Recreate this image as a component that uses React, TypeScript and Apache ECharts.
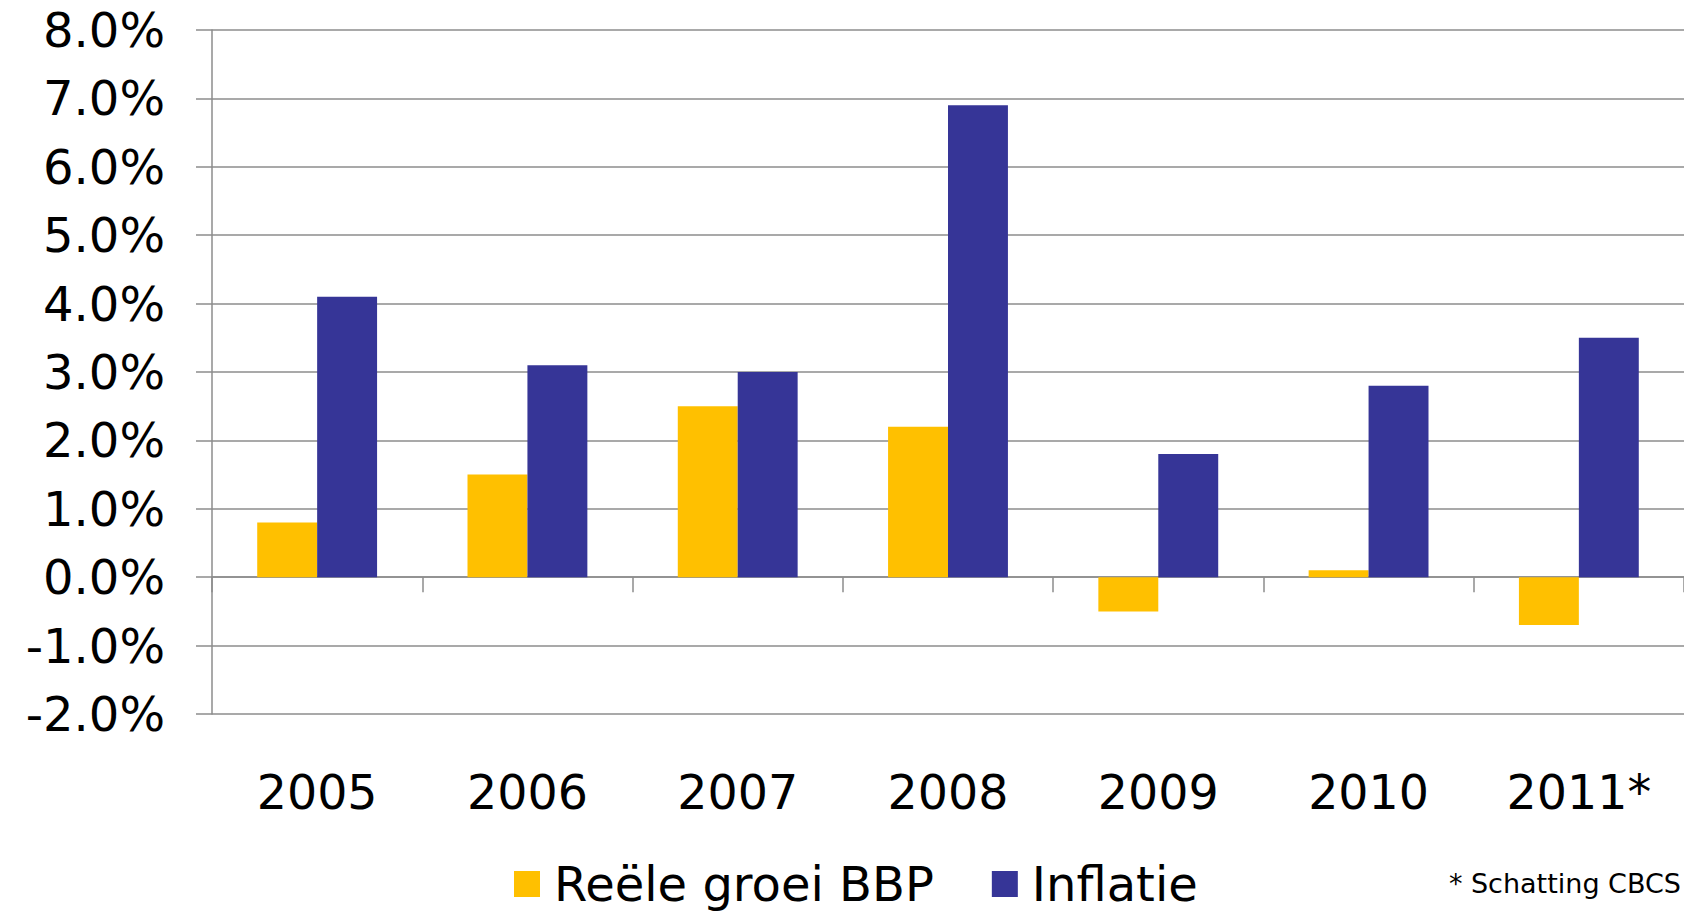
import React, { useEffect, useRef } from "react";
import * as echarts from "echarts";

const years = ["2005", "2006", "2007", "2008", "2009", "2010", "2011*"];
const groeiBBP = [0.8, 1.5, 2.5, 2.2, -0.5, 0.1, -0.7];
const inflatie = [4.1, 3.1, 3.0, 6.9, 1.8, 2.8, 3.5];
const seriesNames = ["Reële groei BBP", "Inflatie"];
const footnote = "* Schatting CBCS";

const FONT = "'DejaVu Sans', Verdana, sans-serif";
const GRAY = "#8c8c8c";

export default function App() {
  const ref = useRef<HTMLDivElement>(null);
  useEffect(() => {
    if (!ref.current) return;
    const chart = echarts.init(ref.current, null, { renderer: "svg" });
    chart.setOption({
      animation: false,
      backgroundColor: "#ffffff",
      textStyle: { fontFamily: FONT },
      grid: { left: 212, right: 0, top: 30, bottom: 199, containLabel: false },
      legend: {
        data: seriesNames,
        left: 509,
        top: 855,
        itemWidth: 26,
        itemHeight: 26,
        itemGap: 58,
        icon: "rect",
        textStyle: {
          fontFamily: FONT,
          fontSize: 48,
          lineHeight: 48,
          color: "#000",
          padding: [0, 0, 0, 9],
        },
      },
      graphic: [
        {
          type: "text",
          right: 3,
          top: 870,
          style: {
            text: footnote,
            fontFamily: FONT,
            fontSize: 27,
            fill: "#000",
          },
        },
      ],
      xAxis: [
        {
          type: "category",
          data: years,
          position: "bottom",
          axisLine: { show: true, onZero: true, lineStyle: { color: GRAY, width: 1.5 } },
          axisTick: { show: true, length: 15, lineStyle: { color: GRAY, width: 1.5 } },
          axisLabel: { show: false },
          splitLine: { show: false },
        },
        {
          type: "category",
          data: years,
          position: "bottom",
          axisLine: { show: false, onZero: false },
          axisTick: { show: false },
          axisLabel: {
            show: true,
            fontFamily: FONT,
            fontSize: 47.5,
            lineHeight: 47,
            color: "#000",
            margin: 55,
          },
          splitLine: { show: false },
        },
      ],
      yAxis: {
        type: "value",
        min: -2,
        max: 8,
        interval: 1,
        axisLine: { show: true, lineStyle: { color: GRAY, width: 1.5 } },
        axisTick: { show: true, length: 16, lineStyle: { color: GRAY, width: 1.5 } },
        axisLabel: {
          fontFamily: FONT,
          fontSize: 48,
          color: "#000",
          margin: 47,
          formatter: (v: number) => v.toFixed(1) + "%",
        },
        splitLine: { show: true, lineStyle: { color: GRAY, width: 1.5 } },
      },
      series: [
        {
          name: seriesNames[0],
          type: "bar",
          data: groeiBBP,
          itemStyle: { color: "#FFC000" },
          barGap: "0%",
          barCategoryGap: "43%",
        },
        {
          name: seriesNames[1],
          type: "bar",
          data: inflatie,
          itemStyle: { color: "#363597" },
          barGap: "0%",
          barCategoryGap: "43%",
        },
      ],
    });
    return () => chart.dispose();
  }, []);
  return (
    <div
      ref={ref}
      style={{ position: "fixed", left: 0, top: 0, width: 1684, height: 913, background: "#fff" }}
    />
  );
}
